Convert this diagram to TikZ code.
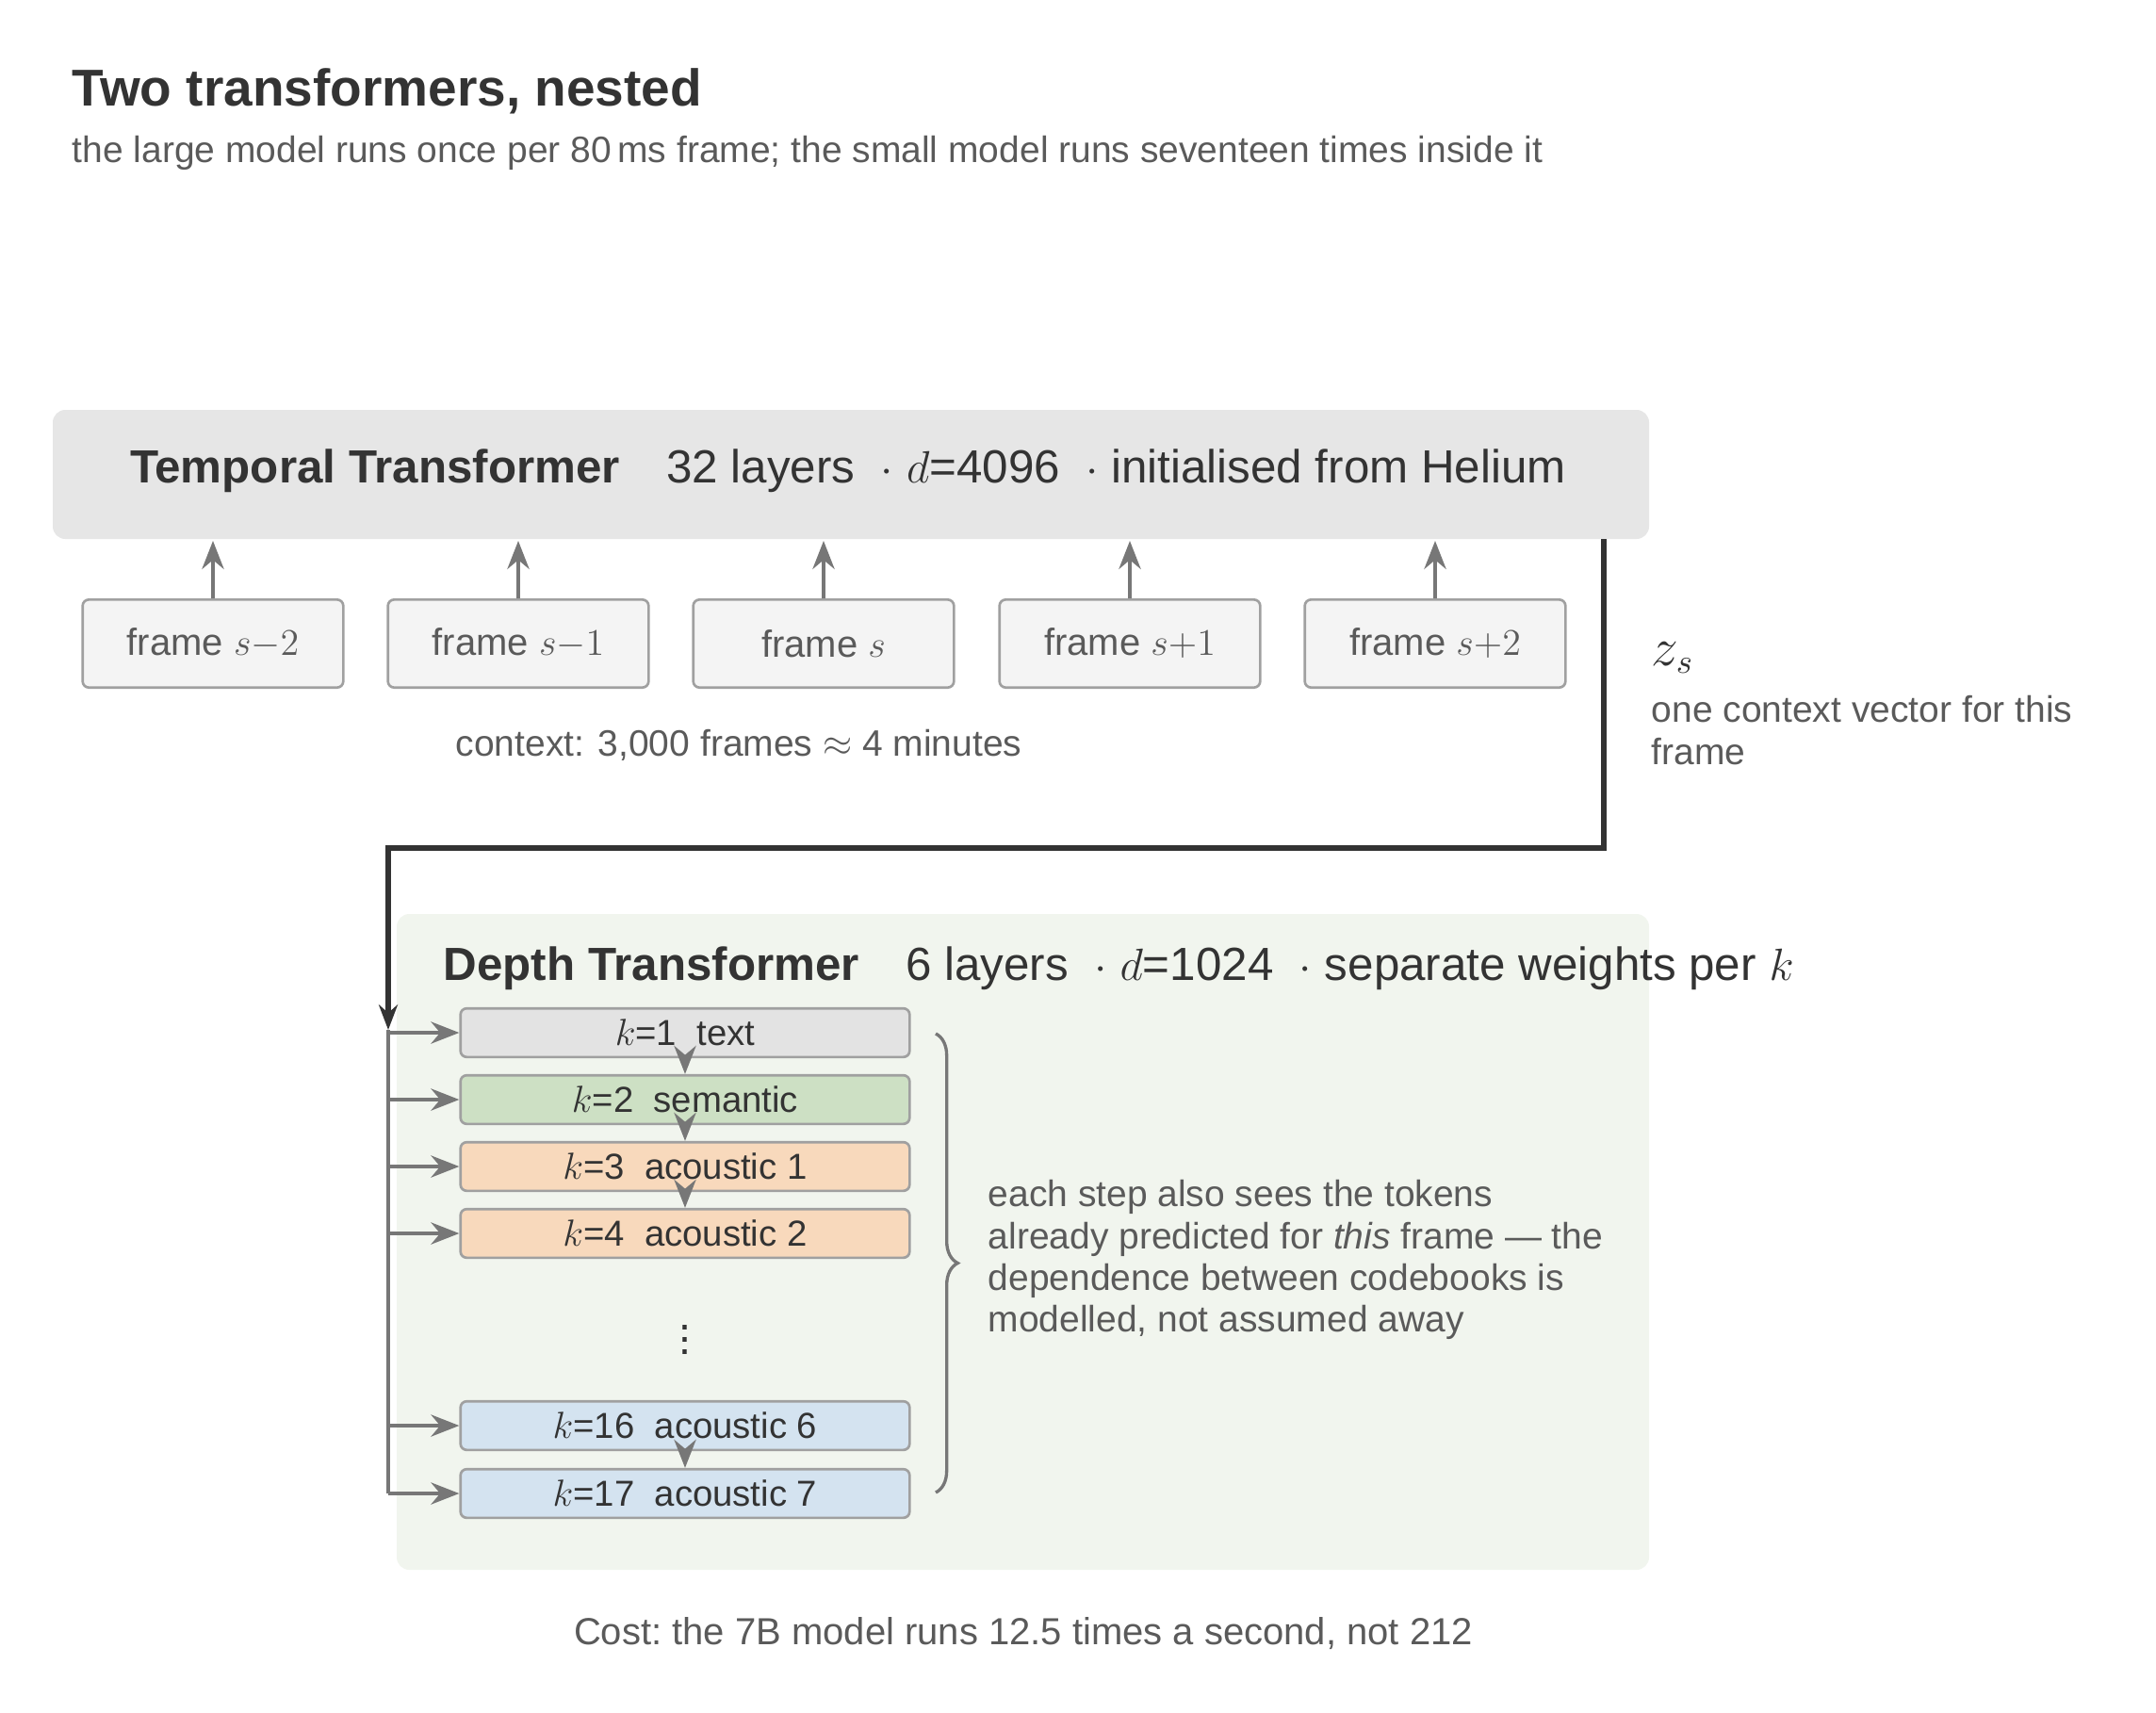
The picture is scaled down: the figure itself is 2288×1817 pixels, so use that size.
\documentclass[tikz,border=0pt]{standalone}
\usepackage{fontspec}
\setmainfont{Liberation Sans}
\usetikzlibrary{arrows.meta,decorations.pathreplacing}
\definecolor{ink}{HTML}{333333}
\definecolor{sub}{HTML}{5A5A5A}
\definecolor{arr}{HTML}{777777}
\definecolor{tbox}{HTML}{E6E6E6}
\definecolor{fbox}{HTML}{F4F4F4}
\definecolor{bord}{HTML}{A0A0A0}
\definecolor{dbox}{HTML}{F1F5EE}
\definecolor{kgray}{HTML}{E3E3E3}
\definecolor{kgreen}{HTML}{CDE0C4}
\definecolor{korange}{HTML}{F8D9BC}
\definecolor{kblue}{HTML}{D4E3F0}
\begin{document}
\begin{tikzpicture}[x=0.3pt,y=-0.3pt,
  frame/.style={draw=bord,line width=0.8pt,fill=fbox,rounded corners=2pt,minimum width=83pt,minimum height=28pt,font=\fontsize{12}{14}\selectfont,text=sub},
  tok/.style={draw=bord,line width=0.8pt,rounded corners=2pt,minimum width=143pt,minimum height=15.5pt,inner sep=0pt,font=\fontsize{11.5}{13}\selectfont,text=ink},
  up/.style={-{Stealth[length=9pt,width=7pt]},arr,line width=1pt},
  hin/.style={-{Stealth[length=9pt,width=7pt]},arr,line width=1pt},
  dn/.style={-{Stealth[length=9pt,width=7pt]},arr,line width=1pt},
  sml/.style={font=\fontsize{11.7}{13.5}\selectfont,text=sub}]
\useasboundingbox (0,0) rectangle (2288,1817);
\node[anchor=base west,inner sep=0pt,font=\fontsize{16.5}{19}\selectfont\bfseries,text=ink] (title) at (76,112) {Two transformers, nested};
\node[anchor=base west,sml,inner sep=0pt] (subt) at (76,172) {the large model runs once per 80\,ms frame; the small model runs seventeen times inside it};
% temporal
\fill[tbox,rounded corners=4pt] (56,435) rectangle (1750,572);
\node[font=\fontsize{14.8}{17}\selectfont,text=ink] (temporal) at (900,500) {\textbf{Temporal Transformer}\quad 32 layers\ \ $\cdot$ $d$=4096\ \ $\cdot$ initialised from Helium};
\foreach \i/\x/\l in {1/226/{s{-}2},2/550/{s{-}1},3/874/{s},4/1199/{s{+}1},5/1523/{s{+}2}}{
  \node[frame] (f\i) at (\x,683) {frame $\l$};
  \coordinate (t\i) at (\x,574);
  \draw[up] (f\i.north) -- (t\i);
}
\node[sml] (ctx) at (784,791) {context: 3,000 frames $\approx$ 4 minutes};
% depth
\fill[dbox,rounded corners=4pt] (421,970) rectangle (1750,1666);
\node[anchor=west,inner sep=0pt,font=\fontsize{14.8}{17}\selectfont,text=ink] (depth) at (470,1028) {\textbf{Depth Transformer}\quad 6 layers\ \ $\cdot$ $d$=1024\ \ $\cdot$ separate weights per $k$};
\node[tok,fill=kgray] (k1) at (727,1096) {$k$=1\ \ text};
\node[tok,fill=kgreen] (k2) at (727,1167) {$k$=2\ \ semantic};
\node[tok,fill=korange] (k3) at (727,1238) {$k$=3\ \ acoustic 1};
\node[tok,fill=korange] (k4) at (727,1309) {$k$=4\ \ acoustic 2};
\node[text=ink,font=\fontsize{14}{16}\selectfont] (dots) at (727,1412) {$\vdots$};
\node[tok,fill=kblue] (k16) at (727,1513) {$k$=16\ \ acoustic 6};
\node[tok,fill=kblue] (k17) at (727,1585) {$k$=17\ \ acoustic 7};
\foreach \a/\b in {k1/k2,k2/k3,k3/k4,k16/k17}{\draw[dn] ([yshift=-3pt]\a.south) -- (\b.north);}
% bus
\coordinate (out) at (1702,572);
\coordinate (c1) at (1702,900);
\coordinate (c2) at (412,900);
\coordinate (bt) at (412,1093);
\coordinate (bb) at (412,1585);
\draw[ink,line width=1.6pt,-{Stealth[length=8pt,width=6pt]}] (out) -- (c1) -- (c2) -- (bt);
\draw[arr,line width=1.2pt] (bt) -- (bb);
\foreach \k in {k1,k2,k3,k4,k16,k17}{\draw[hin] (bt |- \k.west) -- (\k.west);}
\node[anchor=base west,inner sep=0pt,text=ink,font=\fontsize{16}{18}\selectfont] (zs) at (1752,706) {$z_s$};
\node[anchor=north west,inner sep=0pt,sml,align=left] (zdesc) at (1752,738) {one context vector for this\\frame};
% brace
\coordinate (br1) at (993,1097);
\coordinate (br2) at (993,1584);
\draw[arr,line width=1pt,decorate,decoration={brace,amplitude=7pt}] (br1) -- (br2);
\node[anchor=north west,inner sep=0pt,sml,align=left,font=\fontsize{11.7}{13.3}\selectfont] (note) at (1048,1252) {each step also sees the tokens\\already predicted for \textit{this} frame — the\\dependence between codebooks is\\modelled, not assumed away};
\node[sml,font=\fontsize{12}{14}\selectfont] (cost) at (1086,1734) {Cost:\ the 7B model runs 12.5 times a second, not 212};
\end{tikzpicture}
\end{document}
